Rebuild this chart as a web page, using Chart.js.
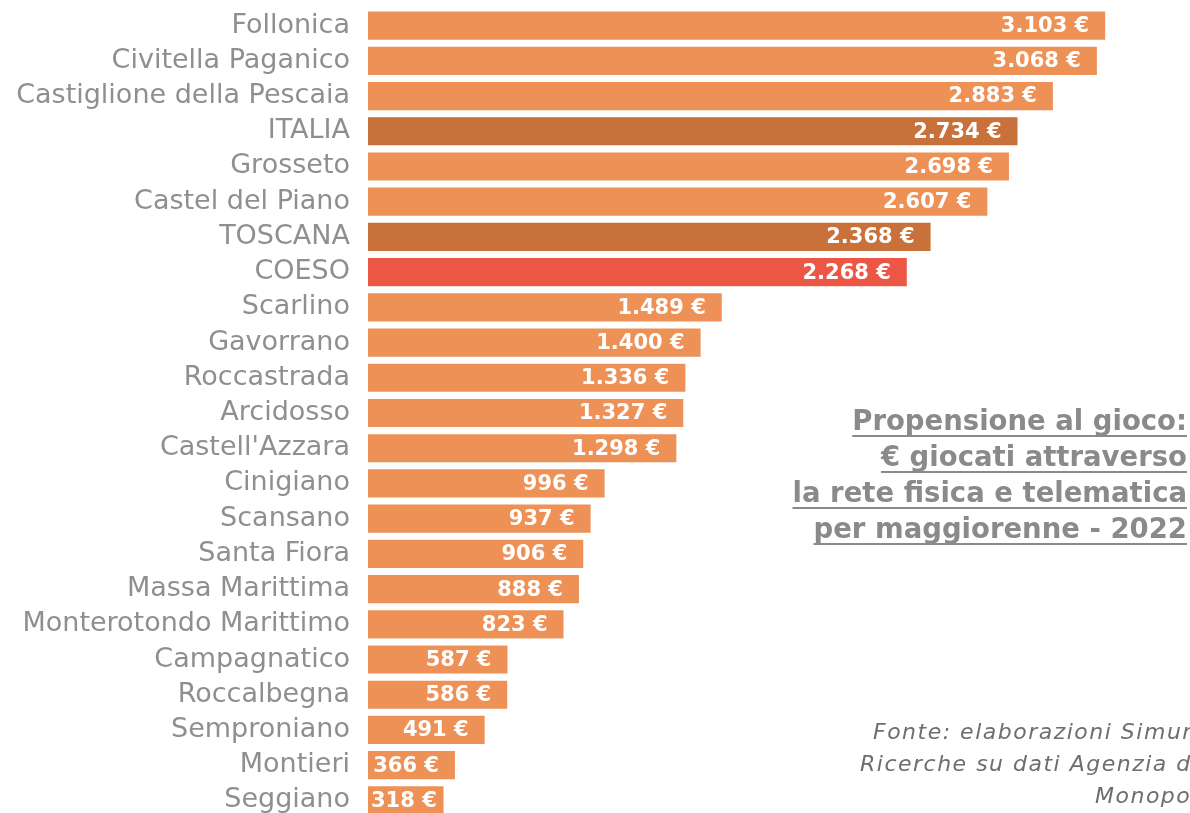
<!DOCTYPE html>
<html>
<head>
<meta charset="utf-8">
<script src="https://cdn.jsdelivr.net/npm/chart.js@4"></script>
<style>
  html, body { margin: 0; padding: 0; background: #fff; overflow: hidden; }
  #wrap { position: relative; width: 1190px; height: 818px; }
</style>
</head>
<body>
<div id="wrap"><canvas id="gioco" width="1190" height="818"></canvas></div>
<script>
// comuni e valori (euro giocati per maggiorenne - 2022)
var comuni = ["Follonica", "Civitella Paganico", "Castiglione della Pescaia", "ITALIA", "Grosseto",
  "Castel del Piano", "TOSCANA", "COESO", "Scarlino", "Gavorrano", "Roccastrada", "Arcidosso",
  "Castell'Azzara", "Cinigiano", "Scansano", "Santa Fiora", "Massa Marittima",
  "Monterotondo Marittimo", "Campagnatico", "Roccalbegna", "Semproniano", "Montieri", "Seggiano"];
var euro = [3103, 3068, 2883, 2734, 2698, 2607, 2368, 2268, 1489, 1400, 1336, 1327,
  1298, 996, 937, 906, 888, 823, 587, 586, 491, 366, 318];
var titolo = ["Propensione al gioco:", "\u20ac giocati attraverso", "la rete fisica e telematica", "per maggiorenne - 2022"];
var fonte = ["Fonte: elaborazioni Simurg", "Ricerche su dati Agenzia dei", "Monopoli"];
var fonteX = [873, 860, 1095]; // inizio di ogni riga (il testo esce dal bordo destro)

var FONT = "'DejaVu Sans', sans-serif";

// colori: italia/toscana piu scuri, coeso rosso
var colori = comuni.map(function(c){
  if(c === "ITALIA" || c === "TOSCANA") return "#C8713B";
  if(c === "COESO") return "#EC5645";
  return "#EE9157";
});

function formatEuro(v){
  var s = String(v);
  if(s.length > 3) s = s.slice(0, s.length-3) + "." + s.slice(-3);
  return s + " \u20ac";
}

// etichette bianche dentro le barre
var valoriPlugin = {
  id: "valori",
  afterDatasetsDraw: function(chart){
    var ctx = chart.ctx;
    var meta = chart.getDatasetMeta(0);
    ctx.save();
    ctx.font = "bold 21px " + FONT;
    ctx.fillStyle = "#fff";
    ctx.textBaseline = "middle";
    ctx.textAlign = "left";
    meta.data.forEach(function(bar, i){
      var txt = formatEuro(euro[i]);
      var w = ctx.measureText(txt).width;
      var x = bar.x - 16 - w;
      if(x < bar.base + 3) x = bar.base + 3;
      ctx.fillText(txt, x, bar.y + 1);
    });
    ctx.restore();
  }
};

// titolo e fonte a destra
var testiPlugin = {
  id: "testi",
  afterDraw: function(chart){
    var ctx = chart.ctx;
    ctx.save();
    ctx.textAlign = "right";
    ctx.textBaseline = "alphabetic";
    ctx.font = "bold 27.5px " + FONT;
    ctx.fillStyle = "#8a8a8a";
    ctx.strokeStyle = "#8a8a8a";
    ctx.lineWidth = 2;
    var right = 1187;
    for(var i=0;i<titolo.length;i++){
      var y = 430 + i*36;
      ctx.fillText(titolo[i], right, y);
      var w = ctx.measureText(titolo[i]).width;
      ctx.beginPath();
      ctx.moveTo(right - w, y + 6);
      ctx.lineTo(right, y + 6);
      ctx.stroke();
    }
    ctx.textAlign = "left";
    ctx.font = "italic 22px " + FONT;
    ctx.letterSpacing = "1.5px";
    ctx.fillStyle = "#6e6e6e";
    for(var j=0;j<fonte.length;j++){
      ctx.fillText(fonte[j], fonteX[j], 739 + j*32);
    }
    ctx.restore();
  }
};

var ctx = document.getElementById("gioco").getContext("2d");
var grafico = new Chart(ctx, {
  type: "bar",
  data: {
    labels: comuni,
    datasets: [{
      data: euro,
      backgroundColor: colori,
      borderWidth: 0,
      barPercentage: 0.8,
      categoryPercentage: 1.0
    }]
  },
  options: {
    indexAxis: "y",
    responsive: false,
    animation: false,
    layout: { padding: { top: 8, bottom: 0, left: 0, right: 0 } },
    plugins: { legend: { display: false }, tooltip: { enabled: false } },
    scales: {
      x: {
        display: false,
        min: 0,
        max: 3460
      },
      y: {
        grid: { display: false, drawTicks: false },
        border: { display: false },
        ticks: {
          color: "#8f8f8f",
          font: { family: FONT, size: 27 },
          padding: 18,
          autoSkip: false
        },
        afterFit: function(scale){
          scale.width = 368;
          scale.paddingTop = 0;
          scale.paddingBottom = 0;
        }
      }
    }
  },
  plugins: [valoriPlugin, testiPlugin]
});
</script>
</body>
</html>
